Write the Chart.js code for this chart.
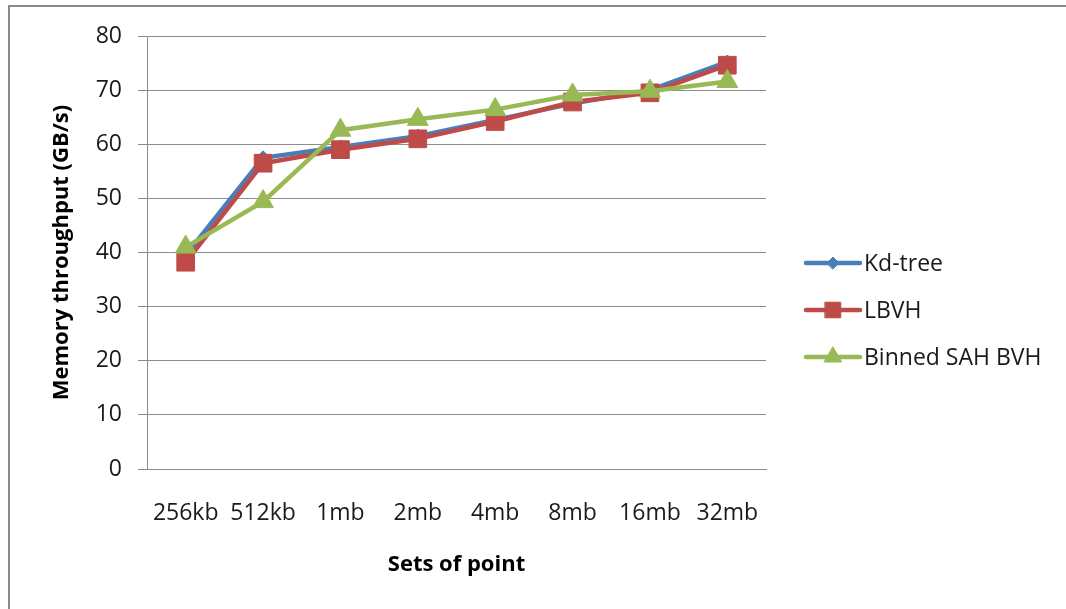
<!DOCTYPE html>
<html>
<head>
<meta charset="utf-8">
<script src="https://cdn.jsdelivr.net/npm/chart.js@4/dist/chart.umd.min.js"></script>
<style>
  html, body { margin: 0; padding: 0; background: #ffffff; }
  #wrap { width: 1066px; height: 609px; position: relative; }
</style>
</head>
<body>
<div id="wrap"><canvas id="c" width="1066" height="609"></canvas></div>
<script>
const categories = ['256kb', '512kb', '1mb', '2mb', '4mb', '8mb', '16mb', '32mb'];
const kdTree   = [39.5, 57.5, 59.5, 61.5, 64.5, 67.5, 70.0, 75.2];
const lbvh     = [38.2, 56.5, 59.0, 61.0, 64.2, 67.8, 69.5, 74.6];
const binnedSah = [41.0, 49.4, 62.6, 64.6, 66.4, 69.1, 69.8, 71.6];
const yTicks   = [0, 10, 20, 30, 40, 50, 60, 70, 80];

const FONT = '"Open Sans", "Liberation Sans", sans-serif';
const BLUE = '#4a7ebb', RED = '#be4b48', GREEN = '#98b954';

// Outer frame lines (top and left edges)
const framePlugin = {
  id: 'frame',
  beforeDraw(chart) {
    const ctx = chart.ctx;
    ctx.save();
    ctx.fillStyle = '#ffffff';
    ctx.fillRect(0, 0, chart.width, chart.height);
    ctx.strokeStyle = '#8c8c8c';
    ctx.lineWidth = 2;
    ctx.beginPath();
    ctx.moveTo(9, chart.height);
    ctx.lineTo(9, 6);
    ctx.lineTo(chart.width, 6);
    ctx.stroke();
    ctx.restore();
  }
};

// Legend drawn to the right of the plot from the dataset styles
const sideLegend = {
  id: 'sideLegend',
  afterDraw(chart) {
    const ctx = chart.ctx;
    const ys = [263, 310, 357];
    const x0 = 806, x1 = 860;
    ctx.save();
    chart.data.datasets.forEach((ds, i) => {
      const y = ys[i];
      ctx.strokeStyle = ds.borderColor;
      ctx.lineWidth = ds.borderWidth;
      ctx.lineCap = 'round';
      ctx.beginPath();
      ctx.moveTo(x0, y);
      ctx.lineTo(x1, y);
      ctx.stroke();
      ctx.fillStyle = ds.pointBackgroundColor;
      ctx.strokeStyle = ds.pointBackgroundColor;
      ctx.lineWidth = 1;
      Chart.helpers.drawPoint(ctx, {
        pointStyle: ds.pointStyle,
        radius: ds.legendRadius,
        rotation: 0,
        borderWidth: 1
      }, (x0 + x1) / 2, y);
      ctx.fillStyle = '#1a1a1a';
      ctx.font = '23px ' + FONT;
      ctx.textBaseline = 'middle';
      ctx.textAlign = 'left';
      ctx.fillText(ds.label, 864, y + 1);
    });
    ctx.restore();
  }
};

new Chart(document.getElementById('c'), {
  type: 'line',
  data: {
    labels: categories,
    datasets: [
      {
        label: 'Kd-tree', data: kdTree, order: 3,
        borderColor: BLUE, backgroundColor: BLUE, borderWidth: 4.5,
        pointStyle: 'rectRot', pointRadius: 7, pointBackgroundColor: BLUE,
        pointBorderColor: BLUE, pointBorderWidth: 1, legendRadius: 6
      },
      {
        label: 'LBVH', data: lbvh, order: 2,
        borderColor: RED, backgroundColor: RED, borderWidth: 4.5,
        pointStyle: 'rect', pointRadius: 12.5, pointBackgroundColor: RED,
        pointBorderColor: RED, pointBorderWidth: 1, legendRadius: 11
      },
      {
        label: 'Binned SAH BVH', data: binnedSah, order: 1,
        borderColor: GREEN, backgroundColor: GREEN, borderWidth: 4.5,
        pointStyle: 'triangle', pointRadius: 12, pointBackgroundColor: GREEN,
        pointBorderColor: GREEN, pointBorderWidth: 1, legendRadius: 10
      }
    ]
  },
  options: {
    responsive: false,
    animation: false,
    events: [],
    layout: { padding: { left: 0, right: 300, top: 36, bottom: 0 } },
    plugins: { legend: { display: false }, tooltip: { enabled: false } },
    scales: {
      x: {
        offset: true,
        grid: { display: false, drawTicks: false },
        border: { display: true, color: '#8c8c8c', width: 1 },
        ticks: { color: '#1a1a1a', font: { family: FONT, size: 23 }, padding: 31, maxRotation: 0, autoSkip: false },
        title: {
          display: true, text: 'Sets of point', color: '#000000',
          font: { family: FONT, size: 22, weight: 'bold' },
          padding: { top: 0, bottom: 31 }
        },
        afterFit(scale) { scale.height = 140; }
      },
      y: {
        min: 0, max: 80,
        afterBuildTicks(scale) { scale.ticks = yTicks.map(v => ({ value: v })); },
        grid: { color: '#8c8c8c', lineWidth: 1, tickLength: 9, drawTicks: true },
        border: { display: true, color: '#8c8c8c', width: 1 },
        ticks: { color: '#1a1a1a', font: { family: FONT, size: 23 }, padding: 16 },
        title: {
          display: true, text: 'Memory throughput (GB/s)', color: '#000000',
          font: { family: FONT, size: 22, weight: 'bold' },
          padding: { top: 49, bottom: 0 }
        },
        afterFit(scale) { scale.width = 147; }
      }
    }
  },
  plugins: [framePlugin, sideLegend]
});
</script>
</body>
</html>
